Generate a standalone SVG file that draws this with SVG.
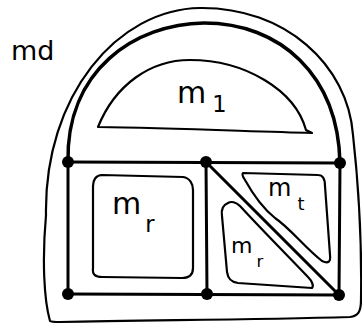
<svg xmlns="http://www.w3.org/2000/svg" width="362" height="327" viewBox="0 0 362 327">
<style>
.frame{fill:none;stroke:#000;stroke-width:2.2;stroke-linecap:round;stroke-linejoin:round}
.edge{fill:none;stroke:#000;stroke-width:3;stroke-linecap:round}
.arch{fill:none;stroke:#000;stroke-width:3.5;stroke-linecap:round}
.dot{fill:#000}
.lbl{font-family:"DejaVu Sans",sans-serif;fill:#000}
.sub{font-size:0.75em}
</style>
<rect width="362" height="327" fill="#fff"/>
<g id="md">
<path class="frame" d="M50,321 C44,300 42,260 46,215 C44,95 118,9 200,8 C285,7 348,65 353,135 C358,180 362,240 361,300 C361,312 358,316 350,317 C250,320 150,320 60,322 C54,322 51,322 50,321 Z"/>
<text class="lbl" x="11" y="60" font-size="27">md</text>
</g>
<g id="connectors">
<path class="arch" d="M68,162 C66,70 135,24 204,23 C280,23 338,75 340,163"/>
<path class="edge" d="M68,162 L340,163"/>
<path class="edge" d="M68,294 L339,295"/>
<path class="edge" d="M68,162 L68,294"/>
<path class="edge" d="M206,162 L207,294"/>
<path class="edge" d="M340,163 L339,295"/>
<path class="edge" d="M206,162 L339,295"/>
</g>
<g id="m1">
<path class="frame" d="M98,127 C115,85 150,60 190,60 C245,60 295,90 306,130 L312,133 C240,131 170,128 98,127 Z"/>
<text class="lbl" x="177" y="103" font-size="30">m<tspan class="sub" dx="6" dy="9">1</tspan></text>
</g>
<g id="mr-left">
<path class="frame" d="M102,175 L183,177 C190,178 193,184 193,190 L193,268 C193,275 189,278 182,278 L102,277 C96,277 92,275 93,268 L93,186 C93,180 96,175 102,175 Z"/>
<text class="lbl" x="112" y="214" font-size="30">m<tspan class="sub" dx="4" dy="18">r</tspan></text>
</g>
<g id="mt">
<path class="frame" d="M243,173 L318,175 C324,175 325,180 325,186 L330,255 C331,262 328,264 322,261 C305,248 290,228 275,218 C265,210 255,198 245,180 C243,177 242,174 243,173 Z"/>
<text class="lbl" x="268" y="196" font-size="24">m<tspan class="sub" dx="6" dy="14">t</tspan></text>
</g>
<g id="mr-right">
<path class="frame" d="M228,203 C223,205 221,210 222,216 L227,272 C228,279 231,282 238,283 L312,288 C314,286 312,281 308,277 C290,258 262,230 240,206 C236,202 231,201 228,203 Z"/>
<text class="lbl" x="231" y="253" font-size="22">m<tspan class="sub" dx="4" dy="14">r</tspan></text>
</g>
<g id="nodes">
<circle class="dot" cx="68" cy="162" r="6"/>
<circle class="dot" cx="206" cy="162" r="6"/>
<circle class="dot" cx="340" cy="163" r="6"/>
<circle class="dot" cx="68" cy="294" r="6"/>
<circle class="dot" cx="207" cy="294" r="6"/>
<circle class="dot" cx="339" cy="295" r="6"/>
</g>
</svg>
